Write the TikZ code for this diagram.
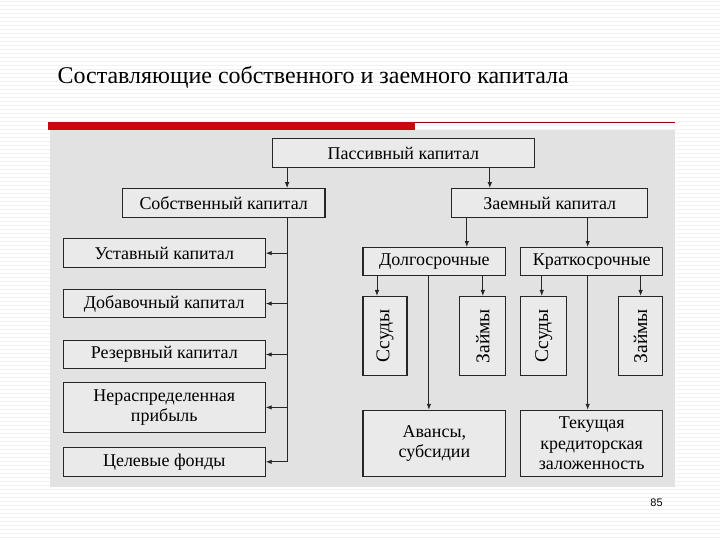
\documentclass[tikz,border=0pt]{standalone}
\usepackage{fontspec}
\setmainfont{Liberation Serif}
\setsansfont{Liberation Sans}
\usetikzlibrary{arrows.meta}

\definecolor{slidered}{RGB}{200,8,14}
\definecolor{scangray}{RGB}{226,226,226}
\definecolor{boxgray}{RGB}{234,234,234}

\begin{document}
\begin{tikzpicture}[x=1pt,y=-1pt,
    box/.style={draw=black!85, fill=boxgray, line width=1.2pt, inner sep=0pt,
        align=center, font=\fontsize{18}{20.5}\selectfont},
    upright/.style={box, font=\fontsize{19.5}{21}\selectfont},
    arr/.style={-{Latex[length=6pt,width=4.5pt]}, line width=0.9pt, black!85},
    trunk/.style={line width=0.9pt, black!85}]
    % slide
    \fill[white] (0,0) rectangle (720,540);
    \foreach \yy in {2,6,...,538}
        \draw[black!5, line width=1pt] (0,\yy) -- (720,\yy);
    \node[anchor=base west, font=\fontsize{24}{26}\selectfont, inner sep=0pt] (title)
        at (57,84) {Составляющие собственного и заемного капитала};
    \fill[slidered] (48,122) rectangle (415,130);
    \draw[slidered!70!black, line width=1pt] (415,123) -- (675,123);
    \fill[scangray] (50,130) rectangle (675,488);
    \node[font=\sffamily\fontsize{11}{12}\selectfont] (page) at (657,503) {85};

    % boxes
    \node[box, minimum width=263, minimum height=29] (pas) at (403.5,153.5) {Пассивный капитал};
    \node[box, minimum width=203, minimum height=29] (sob) at (223.5,203.5) {Собственный капитал};
    \node[box, minimum width=196, minimum height=29] (zaem) at (550,203.5) {Заемный капитал};
    \node[box, minimum width=202, minimum height=29] (ust) at (164,253.5) {Уставный капитал};
    \node[box, minimum width=202, minimum height=28] (dob) at (164,304) {Добавочный капитал};
    \node[box, minimum width=202, minimum height=28] (rez) at (164,355) {Резервный капитал};
    \node[box, minimum width=202, minimum height=50] (ner) at (164,408) {Нераспределенная\\прибыль};
    \node[box, minimum width=202, minimum height=29] (cel) at (164,462.5) {Целевые фонды};
    \node[box, minimum width=143, minimum height=28] (dol) at (434.5,262) {Долгосрочные};
    \node[box, minimum width=142, minimum height=28] (krat) at (592,262) {Краткосрочные};
    \node[upright, minimum width=44, minimum height=79] (ssud1) at (385,336.5) {\rotatebox{90}{Ссуды}};
    \node[upright, minimum width=46, minimum height=79] (zaim1) at (483,336.5) {\rotatebox{90}{Займы}};
    \node[upright, minimum width=46, minimum height=79] (ssud2) at (544,336.5) {\rotatebox{90}{Ссуды}};
    \node[upright, minimum width=44, minimum height=79] (zaim2) at (641,336.5) {\rotatebox{90}{Займы}};
    \node[box, minimum width=143, minimum height=66] (avans) at (434.5,444) {Авансы,\\субсидии};
    \node[box, minimum width=142, minimum height=66] (tek) at (592,444)
        {Текущая\\кредиторская\\заложенность};

    % connector lines
    \coordinate (xsob) at (287,0);
    \coordinate (xzaem) at (490,0);
    \coordinate (xdol) at (467,0);
    \coordinate (xkrat) at (588,0);
    \coordinate (xss1) at (377,0);
    \coordinate (xav) at (429,0);
    \coordinate (xss2) at (542,0);
    \draw[arr] (pas.south -| xsob) -- (sob.north -| xsob);
    \draw[arr] (pas.south -| xzaem) -- (zaem.north -| xzaem);
    \draw[trunk] (sob.south -| xsob) -- (cel.east -| xsob);
    \foreach \n in {ust,dob,rez,ner,cel}
        \draw[arr] (\n.east -| xsob) -- (\n.east);
    \draw[arr] (zaem.south -| xdol) -- (dol.north -| xdol);
    \draw[arr] (zaem.south -| xkrat) -- (krat.north -| xkrat);
    \draw[arr] (dol.south -| xss1) -- (ssud1.north -| xss1);
    \draw[arr] (dol.south -| zaim1) -- (zaim1.north);
    \draw[arr] (dol.south -| xav) -- (avans.north -| xav);
    \draw[arr] (krat.south -| xss2) -- (ssud2.north -| xss2);
    \draw[arr] (krat.south -| zaim2) -- (zaim2.north);
    \draw[arr] (krat.south -| xkrat) -- (tek.north -| xkrat);
\end{tikzpicture}
\end{document}
